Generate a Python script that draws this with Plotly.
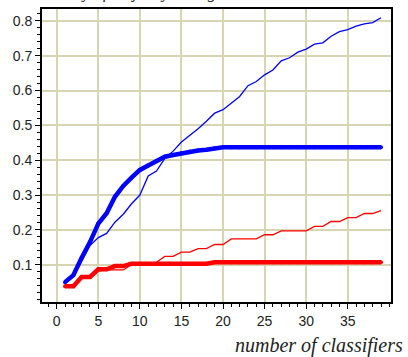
import plotly.graph_objects as go

# ensemble size
n_classifiers = list(range(1, 40))

# blue series
blue_thick = [0.05, 0.07, 0.12, 0.165, 0.218, 0.248, 0.295, 0.326, 0.35, 0.372,
              0.385, 0.398, 0.41, 0.415, 0.42, 0.425, 0.428, 0.43, 0.434, 0.437,
              0.437, 0.437, 0.437, 0.437, 0.437, 0.437, 0.437, 0.437, 0.437, 0.437,
              0.437, 0.437, 0.437, 0.437, 0.437, 0.437, 0.437, 0.437, 0.437]
blue_thin = [0.05, 0.065, 0.11, 0.155, 0.178, 0.19, 0.222, 0.245, 0.275, 0.3,
             0.355, 0.369, 0.405, 0.426, 0.452, 0.47, 0.49, 0.512, 0.535, 0.545,
             0.565, 0.583, 0.614, 0.626, 0.645, 0.659, 0.685, 0.694, 0.71, 0.719,
             0.733, 0.737, 0.756, 0.769, 0.775, 0.785, 0.791, 0.795, 0.809]

# red series
red_thick = [0.038, 0.038, 0.065, 0.065, 0.087, 0.087, 0.096, 0.096, 0.103, 0.103,
             0.103, 0.103, 0.103, 0.103, 0.103, 0.103, 0.103, 0.103, 0.107, 0.107,
             0.107, 0.107, 0.107, 0.107, 0.107, 0.107, 0.107, 0.107, 0.107, 0.107,
             0.107, 0.107, 0.107, 0.107, 0.107, 0.107, 0.107, 0.107, 0.107]
red_thin = [0.038, 0.038, 0.06, 0.065, 0.082, 0.085, 0.085, 0.085, 0.1, 0.1,
            0.1, 0.107, 0.124, 0.124, 0.136, 0.136, 0.146, 0.146, 0.158, 0.158,
            0.174, 0.174, 0.174, 0.174, 0.186, 0.186, 0.197, 0.197, 0.197, 0.197,
            0.21, 0.21, 0.224, 0.224, 0.235, 0.235, 0.247, 0.247, 0.255]

x_ticks = [0, 5, 10, 15, 20, 25, 30, 35]
y_ticks = [0.1, 0.2, 0.3, 0.4, 0.5, 0.6, 0.7, 0.8]

GRID = "#d8d5b2"
SERIF = "Liberation Serif, Times New Roman, serif"

fig = go.Figure()
fig.add_trace(go.Scatter(x=n_classifiers, y=red_thin, mode="lines",
                         line=dict(color="#ff0000", width=1.3)))
fig.add_trace(go.Scatter(x=n_classifiers, y=red_thick, mode="lines+markers",
                         line=dict(color="#ff0000", width=4.5),
                         marker=dict(color="#ff0000", size=4)))
fig.add_trace(go.Scatter(x=n_classifiers, y=blue_thin, mode="lines",
                         line=dict(color="#0000ff", width=1.3)))
fig.add_trace(go.Scatter(x=n_classifiers, y=blue_thick, mode="lines+markers",
                         line=dict(color="#0000ff", width=4.5),
                         marker=dict(color="#0000ff", size=4)))

axis_font = dict(family="Liberation Sans, Arial, sans-serif", size=14, color="#222222")

fig.update_layout(
    width=408, height=357,
    margin=dict(l=42, r=17, t=7, b=55),
    paper_bgcolor="white", plot_bgcolor="white",
    showlegend=False,
    xaxis=dict(
        range=[-1.77, 40.2], tickvals=x_ticks, ticktext=[str(v) for v in x_ticks],
        showgrid=True, gridcolor=GRID, gridwidth=1.5, zeroline=False,
        showline=True, linecolor="black", linewidth=2, mirror=True,
        ticks="outside", ticklen=5, tickwidth=1, tickcolor="black",
        minor=dict(dtick=1, tick0=0, ticks="outside", ticklen=3, tickcolor="black", showgrid=False),
        tickfont=axis_font,
    ),
    yaxis=dict(
        range=[-0.007, 0.834], tickvals=y_ticks, ticktext=[f"{v:.1f}" for v in y_ticks],
        showgrid=True, gridcolor=GRID, gridwidth=1.5, zeroline=False,
        showline=True, linecolor="black", linewidth=2, mirror=True,
        ticks="outside", ticklen=5, tickwidth=1, tickcolor="black",
        minor=dict(dtick=0.02, tick0=0, ticks="outside", ticklen=3, tickcolor="black", showgrid=False),
        tickfont=axis_font,
    ),
    annotations=[
        dict(text="<i>number of classifiers</i>", xref="paper", yref="paper",
             x=1.041, y=-0.150, xanchor="right", yanchor="middle", showarrow=False,
             font=dict(family=SERIF, size=20, color="#222222")),
        dict(text="<i>accuracy of majority voting</i>", xref="paper", yref="paper",
             x=0.23, y=1.0, xanchor="center", yanchor="bottom", yshift=5, showarrow=False,
             font=dict(family=SERIF, size=17, color="#222222")),
    ],
)

fig.write_html("out.html")
